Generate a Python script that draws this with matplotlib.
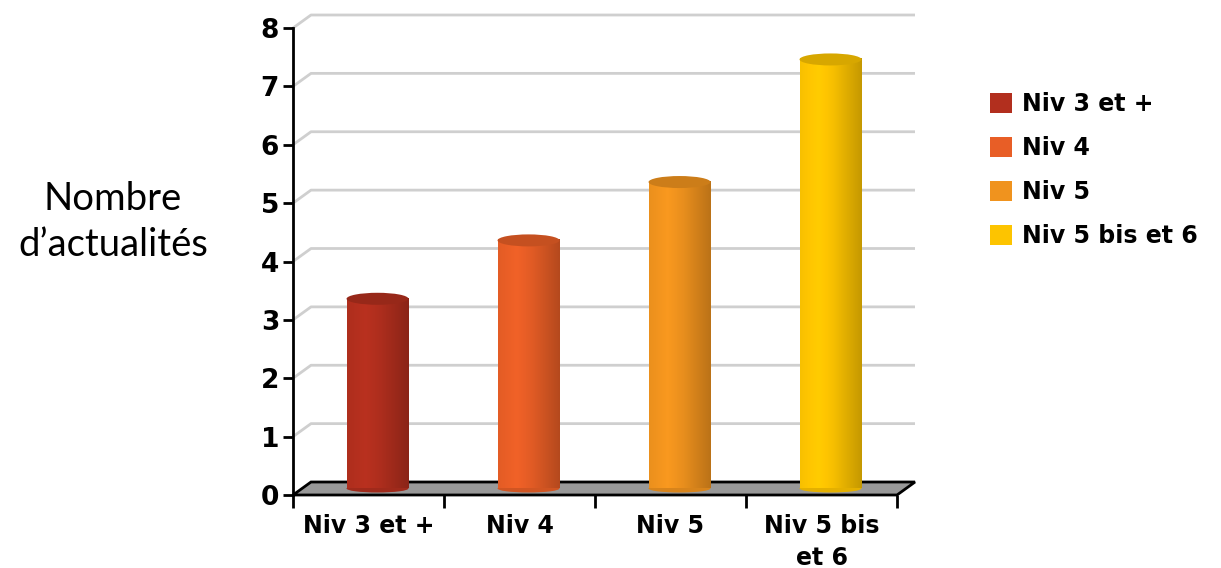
import numpy as np
import matplotlib
import matplotlib.pyplot as plt
from matplotlib.patches import Polygon, Ellipse, Patch

categories = ["Niv 3 et +", "Niv 4", "Niv 5", "Niv 5 bis\net 6"]
legend_labels = ["Niv 3 et +", "Niv 4", "Niv 5", "Niv 5 bis et 6"]
values = [3.25, 4.25, 5.25, 7.35]
colors = ["#b22f1e", "#e85e26", "#f0931e", "#fdc400"]
yticks = [0, 1, 2, 3, 4, 5, 6, 7, 8]

W_PX, H_PX = 1221, 568
fig = plt.figure(figsize=(W_PX / 100, H_PX / 100), dpi=100)

# axes box in pixels (front plane)
left, right, bottom, top = 293, 897, 495, 28
ax = fig.add_axes([left / W_PX, 1 - bottom / H_PX, (right - left) / W_PX, (bottom - top) / H_PX])
ax.set_xlim(-0.5, len(categories) - 0.5)
ax.set_ylim(0, 8)

# fake depth offset (pixels -> data units)
px_x = (right - left) / len(categories)
px_y = (bottom - top) / 8.0
dx = 18 / px_x
dy = 13 / px_y

x0, x1 = -0.5, len(categories) - 0.5

# floor
floor = Polygon([(x0, 0), (x1, 0), (x1 + dx, dy), (x0 + dx, dy)], closed=True,
                facecolor="#989898", edgecolor="black", lw=2, clip_on=False, zorder=1)
ax.add_patch(floor)

# back wall gridlines
for y in yticks[1:]:
    ax.plot([x0, x0 + dx, x1 + dx], [y, y + dy, y + dy], color="#cfcfcf", lw=2,
            clip_on=False, zorder=0.5, solid_capstyle="butt")

# cylinder bars
bw = 0.41
t = np.linspace(0, 1, 60)
shade = np.interp(t, [0, 0.3, 0.55, 1], [0.98, 1.04, 0.97, 0.78])
for i, v in enumerate(values):
    c = np.array(matplotlib.colors.to_rgb(colors[i]))
    grad = np.clip(shade[:, None] * c[None, :], 0, 1)[None, :, :]
    xa = i - bw / 2 + dx / 2
    xb = i + bw / 2 + dx / 2
    ya = dy / 2
    yb = v + dy / 2
    ax.imshow(grad, extent=[xa, xb, ya, yb], aspect="auto", interpolation="bilinear",
              zorder=3, clip_on=False)
    ax.add_patch(Ellipse(((xa + xb) / 2, ya), bw, 8 / px_y, facecolor=c * 0.9,
                         edgecolor="none", zorder=2.9, clip_on=False))
    ax.add_patch(Ellipse(((xa + xb) / 2, yb), bw, 12 / px_y, facecolor=np.clip(c * 0.85, 0, 1),
                         edgecolor="none", zorder=3.1, clip_on=False))

# axes styling
for s in ["top", "right", "bottom"]:
    ax.spines[s].set_visible(False)
ax.spines["left"].set_linewidth(2)
ax.set_yticks(yticks)
ax.set_yticklabels([str(y) for y in yticks], fontsize=19, fontweight="bold", family="DejaVu Sans")
ax.tick_params(axis="y", length=7, width=2, pad=3)
ax.set_xticks(range(len(categories)))
ax.set_xticklabels(categories, fontsize=17, fontweight="bold", family="DejaVu Sans",
                   linespacing=1.4, va="top")
ax.set_xticks(np.arange(x0, x1 + 0.01, 1.0), minor=True)
ax.tick_params(axis="x", which="major", length=0, pad=14)
ax.tick_params(axis="x", which="minor", length=9, width=2)
ax.patch.set_alpha(0)

# y label
fig.text(113 / W_PX, 1 - 222 / H_PX, "Nombre\nd\u2019actualités", fontsize=27.5, family="Lato",
         ha="center", va="center", linespacing=1.35)

handles = [Patch(facecolor=c, edgecolor="none") for c in colors]
fig.legend(handles, legend_labels, loc="upper left", bbox_to_anchor=(990 / W_PX, 1 - 92 / H_PX),
           frameon=False, prop={"family": "DejaVu Sans", "weight": "bold", "size": 17},
           handlelength=0.93, handleheight=0.93, handletextpad=0.42, labelspacing=0.85,
           borderpad=0, borderaxespad=0)

fig.savefig("out.png", dpi=100)
